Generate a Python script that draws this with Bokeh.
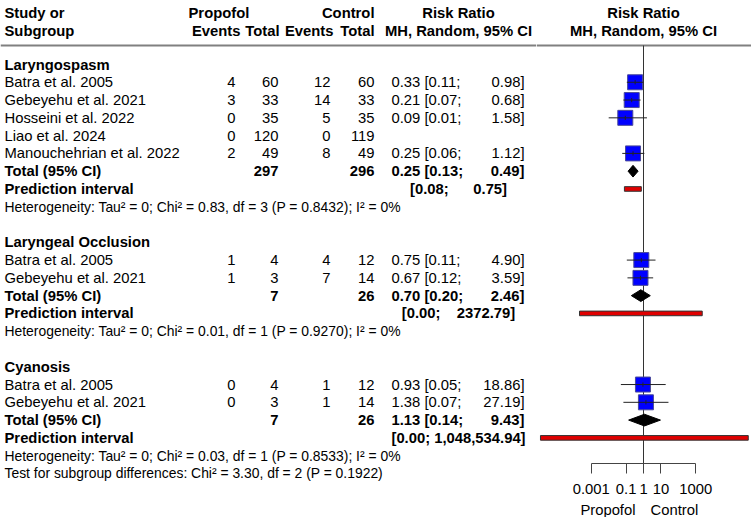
import math
from bokeh.plotting import figure
from bokeh.layouts import column, row
from bokeh.models import (Range1d, LogScale, LogAxis, FixedTicker, ColumnDataSource)
from bokeh.core.properties import value
from bokeh.embed import file_html
from bokeh.resources import INLINE

# ---------------- data ----------------
subgroups = ["Laryngospasm", "Laryngeal Occlusion", "Cyanosis"]
study_names = ["Batra et al. 2005", "Gebeyehu et al. 2021", "Hosseini et al. 2022",
               "Liao et al. 2024", "Manouchehrian et al. 2022",
               "Batra et al. 2005", "Gebeyehu et al. 2021",
               "Batra et al. 2005", "Gebeyehu et al. 2021"]
study_group = [0, 0, 0, 0, 0, 1, 1, 2, 2]
events_propofol = [4, 3, 0, 0, 2, 1, 1, 0, 0]
total_propofol = [60, 33, 35, 120, 49, 4, 3, 4, 3]
events_control = [12, 14, 5, 0, 8, 4, 7, 1, 1]
total_control = [60, 33, 35, 119, 49, 12, 14, 12, 14]
rr = [0.33, 0.21, 0.09, None, 0.25, 0.75, 0.67, 0.93, 1.38]
rr_lower = [0.11, 0.07, 0.01, None, 0.06, 0.11, 0.12, 0.05, 0.07]
rr_upper = [0.98, 0.68, 1.58, None, 1.12, 4.90, 3.59, 18.86, 27.19]

sub_total_propofol = [297, 7, 7]
sub_total_control = [296, 26, 26]
sub_rr = [0.25, 0.70, 1.13]
sub_lower = [0.13, 0.20, 0.14]
sub_upper = [0.49, 2.46, 9.43]
pi_lower = [0.08, 0.00021, 0.0000012]
pi_upper = [0.75, 2372.79, 1048534.94]
het_tau2 = ["0", "0", "0"]
het_chi2 = [0.83, 0.01, 0.03]
het_df = [3, 1, 1]
het_p = [0.8432, 0.9270, 0.8533]
het_i2 = [0, 0, 0]
test_chi2, test_df, test_p = 3.30, 2, 0.1922
axis_ticks = [0.001, 0.1, 1, 10, 1000]
axis_tick_labels = ["0.001", "0.1", "1", "10", "1000"]
label_left, label_right = "Propofol", "Control"

# ---------------- layout ----------------
W, H = 751, 517
SPLIT = 536                      # table panel | forest panel
H_TOP, H_BOTTOM = 501, 16        # forest panel | favours strip
ROW0, ROWH, FRAME_BOTTOM = 64.0, 17.78, 463.0
REF_PX, DECADE_PX = 643.0, 17.4
FONT = value("Liberation Sans")
FS = "14.8px"
FS_HET = "13.9px"
NBSP = "\u00a0"


def fmt_hi(v):
    return f"{v:,.2f}" if v >= 1e5 else f"{v:.2f}"


def forest_range():
    return Range1d(10 ** ((SPLIT - REF_PX) / DECADE_PX), 10 ** ((W - REF_PX) / DECADE_PX))


def make_fig(x0, x1, height, frame_bottom_px, border_bottom):
    f = figure(width=int(x1 - x0), height=height, output_backend="svg", toolbar_location=None,
               x_range=Range1d(x0, x1),
               y_range=Range1d((frame_bottom_px - ROW0) / ROWH, -ROW0 / ROWH),
               x_axis_location=None, y_axis_location=None,
               min_border_left=0, min_border_right=0, min_border_top=0,
               min_border_bottom=border_bottom, outline_line_color=None,
               background_fill_color="white", border_fill_color="white")
    f.grid.visible = False
    return f


def put_text(f, xs, ys, texts, align="left", style="normal", size=FS):
    src = ColumnDataSource(dict(x=xs, y=ys, t=texts))
    f.text(x="x", y="y", text="t", source=src, text_align=align, text_baseline="middle",
           text_font=FONT, text_font_size=size, text_font_style=style, text_color="black")


# assign rows
rows_group, rows_study, rows_total, rows_pi, rows_het = [], [], [], [], []
r = 0
for g in range(len(subgroups)):
    rows_group.append(r); r += 1
    for i in range(len(study_names)):
        if study_group[i] == g:
            rows_study.append(r); r += 1
    rows_total.append(r); r += 1
    rows_pi.append(r); r += 1
    rows_het.append(r); r += 1
    if g < len(subgroups) - 1:
        r += 1
row_test = r
row_hdr1, row_hdr2 = (12 - ROW0) / ROWH, (30 - ROW0) / ROWH
row_rule = (45 - ROW0) / ROWH
row_bottom = (FRAME_BOTTOM - ROW0) / ROWH

# ================= table panel =================
t = make_fig(0, SPLIT, H, H, 0)

put_text(t, [4, 4], [row_hdr1, row_hdr2], ["Study or", "Subgroup"], style="bold")
put_text(t, [188], [row_hdr1], ["Propofol"], style="bold")
put_text(t, [374], [row_hdr1], ["Control"], align="right", style="bold")
put_text(t, [240, 279, 333, 374], [row_hdr2] * 4, ["Events", "Total", "Events", "Total"],
         align="right", style="bold")
put_text(t, [458, 458], [row_hdr1, row_hdr2], ["Risk Ratio", "MH, Random, 95% CI"], align="center", style="bold")
t.segment(x0=[0], y0=[row_rule], x1=[SPLIT], y1=[row_rule], line_color="#808080", line_width=2)

put_text(t, [4] * len(rows_group), rows_group, subgroups, style="bold")
put_text(t, [4] * len(rows_total), rows_total, ["Total (95% CI)"] * len(rows_total), style="bold")
put_text(t, [4] * len(rows_pi), rows_pi, ["Prediction interval"] * len(rows_pi), style="bold")

put_text(t, [4] * len(rows_study), rows_study, study_names)
put_text(t, [235] * len(rows_study), rows_study, [str(v) for v in events_propofol], align="right")
put_text(t, [278] * len(rows_study), rows_study, [str(v) for v in total_propofol], align="right")
put_text(t, [330] * len(rows_study), rows_study, [str(v) for v in events_control], align="right")
put_text(t, [374] * len(rows_study), rows_study, [str(v) for v in total_control], align="right")
est_rows = [rows_study[i] for i in range(len(rr)) if rr[i] is not None]
put_text(t, [391] * len(est_rows), est_rows,
         [f"{rr[i]:.2f} [{rr_lower[i]:.2f};" for i in range(len(rr)) if rr[i] is not None])
put_text(t, [524] * len(est_rows), est_rows,
         [f"{rr_upper[i]:.2f}]" for i in range(len(rr)) if rr[i] is not None], align="right")

put_text(t, [278] * 3, rows_total, [str(v) for v in sub_total_propofol], align="right", style="bold")
put_text(t, [374] * 3, rows_total, [str(v) for v in sub_total_control], align="right", style="bold")
put_text(t, [391] * 3, rows_total, [f"{sub_rr[g]:.2f} [{sub_lower[g]:.2f};" for g in range(3)], style="bold")
put_text(t, [524] * 3, rows_total, [f"{sub_upper[g]:.2f}]" for g in range(3)], align="right", style="bold")

pi_txt = []
for g in range(3):
    hi = fmt_hi(pi_upper[g])
    pad = 1 + (12 - len(hi)) * 5 // 8
    pi_txt.append(f"[{pi_lower[g]:.2f};" + NBSP * pad + hi + "]")
put_text(t, [458] * 3, rows_pi, pi_txt, align="center", style="bold")

het_txt = [f"Heterogeneity: Tau\u00b2 = {het_tau2[g]}; Chi\u00b2 = {het_chi2[g]:.2f}, df = {het_df[g]} "
           f"(P = {het_p[g]:.4f}); I\u00b2 = {het_i2[g]}%" for g in range(3)]
het_rows = list(rows_het)
het_txt.append(f"Test for subgroup differences: Chi\u00b2 = {test_chi2:.2f}, df = {test_df} (P = {test_p:.4f})")
het_rows.append(row_test)
put_text(t, [4] * len(het_txt), het_rows, het_txt, size=FS_HET)

# ================= forest panel =================
p = make_fig(SPLIT, W, H_TOP, FRAME_BOTTOM, int(H_TOP - FRAME_BOTTOM))
p.extra_x_ranges = {"forest": forest_range()}
p.extra_x_scales = {"forest": LogScale()}

put_text(p, [REF_PX, REF_PX], [row_hdr1, row_hdr2], ["Risk Ratio", "MH, Random, 95% CI"],
         align="center", style="bold")
p.segment(x0=[SPLIT], y0=[row_rule], x1=[W], y1=[row_rule], line_color="#808080", line_width=2)

p.segment(x0=[1], x1=[1], y0=[row_rule], y1=[row_bottom], line_color="#333333", line_width=1,
          x_range_name="forest")

p.quad(left=pi_lower, right=pi_upper, top=[r_ - 0.13 for r_ in rows_pi], bottom=[r_ + 0.13 for r_ in rows_pi],
       fill_color="#e00000", line_color="#333333", line_width=1, x_range_name="forest")

dx, dy = [], []
for g in range(3):
    rr_ = rows_total[g]
    dx.append([sub_lower[g], sub_rr[g], sub_upper[g], sub_rr[g]])
    dy.append([rr_, rr_ - 0.33, rr_, rr_ + 0.33])
p.patches(xs=dx, ys=dy, fill_color="black", line_color="black", line_width=1, x_range_name="forest")

sq_x = [rr[i] for i in range(len(rr)) if rr[i] is not None]
sq_lo = [rr_lower[i] for i in range(len(rr)) if rr[i] is not None]
sq_hi = [rr_upper[i] for i in range(len(rr)) if rr[i] is not None]
p.scatter(x=sq_x, y=est_rows, marker="square", size=15, fill_color="#0000ff",
          line_color="#4a4a9a", line_width=1, x_range_name="forest")
p.segment(x0=sq_lo, x1=sq_hi, y0=est_rows, y1=est_rows, line_color="#222222", line_width=1,
          x_range_name="forest")
p.segment(x0=sq_x, x1=sq_x, y0=[v - 0.12 for v in est_rows], y1=[v + 0.12 for v in est_rows],
          line_color="#222222", line_width=1, x_range_name="forest")

ax = LogAxis(x_range_name="forest", ticker=FixedTicker(ticks=axis_ticks), bounds=(axis_ticks[0], axis_ticks[-1]))
ax.major_label_overrides = {tk: lb for tk, lb in zip(axis_ticks, axis_tick_labels)}
ax.major_tick_in = 0
ax.major_tick_out = 10
ax.minor_tick_line_color = None
ax.axis_line_color = "#444444"
ax.major_tick_line_color = "#444444"
ax.major_label_text_font = "Liberation Sans"
ax.major_label_text_font_size = FS
ax.major_label_text_color = "black"
ax.major_label_standoff = 10
p.add_layout(ax, "below")

# ================= favours labels strip =================
q = figure(width=W - SPLIT, height=H_BOTTOM, output_backend="svg", toolbar_location=None,
           x_range=Range1d(SPLIT, W), y_range=Range1d(-1, 1),
           x_axis_location=None, y_axis_location=None,
           min_border_left=0, min_border_right=0, min_border_top=0, min_border_bottom=0,
           outline_line_color=None, background_fill_color="white", border_fill_color="white")
q.grid.visible = False
q.extra_x_ranges = {"forest": forest_range()}
q.extra_x_scales = {"forest": LogScale()}
q.text(x=[1, 1], y=[0, 0], text=[label_left, label_right], text_align=["right", "left"],
       x_offset=[-8, 7], text_baseline="middle", text_font=FONT, text_font_size=FS,
       text_color="black", x_range_name="forest")

layout = row(t, column(p, q, spacing=0), spacing=0)
open("out.html", "w").write(file_html(layout, INLINE))
